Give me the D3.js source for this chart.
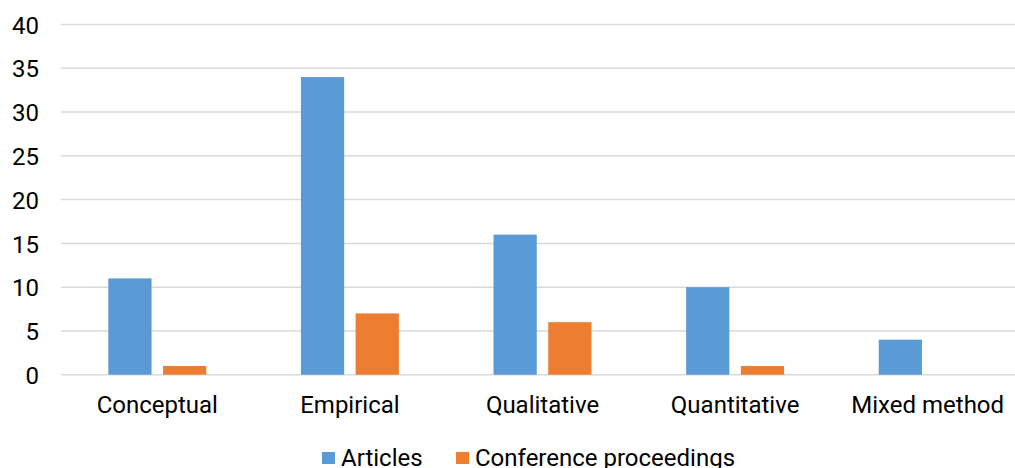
<!DOCTYPE html>
<html>
<head>
<meta charset="utf-8">
<script src="https://cdn.jsdelivr.net/npm/d3@7"></script>
<style>
  html, body { margin: 0; padding: 0; background: #fff; overflow: hidden; }
  svg text { font-family: Roboto, "Noto Sans", sans-serif; fill: #000; }
</style>
</head>
<body>
<svg id="chart" width="1015" height="468"></svg>
<script>
// Publications by research approach
const categories = ["Conceptual", "Empirical", "Qualitative", "Quantitative", "Mixed method"];
const seriesNames = ["Articles", "Conference proceedings"];
const articles = [11, 34, 16, 10, 4];
const conferenceProceedings = [1, 7, 6, 1, 0];
const yTicks = [0, 5, 10, 15, 20, 25, 30, 35, 40];
const colors = ["#5B9BD5", "#ED7D31"];

const series = [articles, conferenceProceedings];
const rows = categories.map((c, i) => ({ category: c, values: series.map(s => s[i]) }));

const svg = d3.select("#chart");
const width = 1015, height = 468;
// plot area runs slightly past the right edge of the canvas
const margin = { left: 61, right: -9, top: 24.5, bottom: 93.3 };
const fontSize = "24px";

const x = d3.scaleBand().domain(categories)
  .range([margin.left, width - margin.right]).paddingInner(0).paddingOuter(0);
const xInner = d3.scaleBand().domain(d3.range(series.length))
  .range([0, x.bandwidth()]).paddingInner(0.21).paddingOuter(0.865);
const y = d3.scaleLinear().domain([0, 40]).range([height - margin.bottom, margin.top]);

// Gridlines
svg.append("g").selectAll("line").data(yTicks).join("line")
  .attr("x1", margin.left).attr("x2", width - margin.right)
  .attr("y1", d => y(d)).attr("y2", d => y(d))
  .attr("stroke", "#d9d9d9").attr("stroke-width", 1.5);

// Y axis labels
const yAxis = d3.axisLeft(y).tickValues(yTicks).tickSize(0).tickPadding(0);
const gy = svg.append("g").attr("transform", `translate(${margin.left - 22},0)`).call(yAxis);
gy.select(".domain").remove();
gy.selectAll("text").style("font-family", "Roboto").style("font-size", fontSize).attr("fill", "#000").attr("dy", "0.36em");

// Bars
const groups = svg.append("g").selectAll("g").data(rows).join("g")
  .attr("transform", d => `translate(${x(d.category)},0)`);
groups.selectAll("rect").data(d => d.values.map((v, k) => ({ v, k }))).join("rect")
  .attr("x", d => xInner(d.k)).attr("width", xInner.bandwidth())
  .attr("y", d => y(d.v)).attr("height", d => y(0) - y(d.v))
  .attr("fill", d => colors[d.k]);

// X axis labels
const xAxis = d3.axisBottom(x).tickSize(0).tickPadding(0);
const gx = svg.append("g").attr("transform", `translate(0,${y(0)})`).call(xAxis);
gx.select(".domain").remove();
gx.selectAll("text").style("font-family", "Roboto").style("font-size", fontSize).attr("fill", "#000")
  .attr("y", 38.5).attr("dy", 0);

// Legend
const legendItems = [
  { name: seriesNames[0], color: colors[0], x: 322 },
  { name: seriesNames[1], color: colors[1], x: 456 }
];
const lg = svg.append("g");
lg.selectAll("rect").data(legendItems).join("rect")
  .attr("x", d => d.x).attr("y", 452).attr("width", 13).attr("height", 12)
  .attr("fill", d => d.color);
lg.selectAll("text").data(legendItems).join("text")
  .attr("x", d => d.x + 19).attr("y", 466)
  .style("font-size", fontSize).text(d => d.name);
</script>
</body>
</html>
